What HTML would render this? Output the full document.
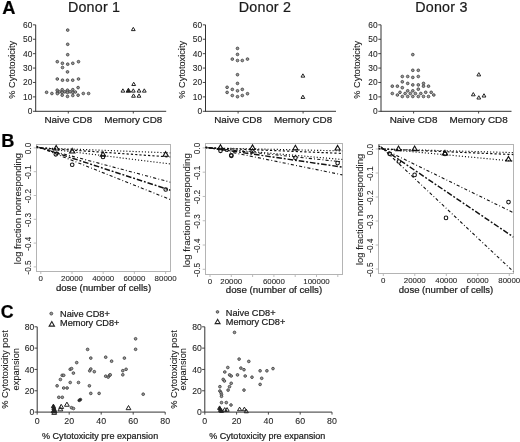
<!DOCTYPE html>
<html><head><meta charset="utf-8"><style>
html,body{margin:0;padding:0;background:#fff;}
svg{display:block;font-family:"Liberation Sans", sans-serif;filter:blur(0.35px);}
text{stroke:#222;stroke-width:0.22px;}
text.t{stroke:#333;stroke-width:0.08px;}
text.y{stroke:#333;stroke-width:0.1px;}
</style></head><body>
<svg width="520" height="442" viewBox="0 0 520 442">
<rect width="520" height="442" fill="#fff"/>
<text x="2.20" y="14.40" font-size="18.3" text-anchor="start" font-weight="bold" fill="#000">A</text>
<text x="94.10" y="12.00" font-size="14.3" text-anchor="middle" font-weight="normal" fill="#1a1a1a" letter-spacing="0.22">Donor 1</text>
<line x1="35.70" y1="24.84" x2="35.70" y2="111.80" stroke="#333" stroke-width="1"/>
<line x1="33.00" y1="111.30" x2="35.70" y2="111.30" stroke="#333" stroke-width="0.9"/>
<text x="32.30" y="114.30" font-size="8.4" text-anchor="end" font-weight="normal" fill="#222" class="t">0</text>
<line x1="33.00" y1="96.89" x2="35.70" y2="96.89" stroke="#333" stroke-width="0.9"/>
<text x="32.30" y="99.89" font-size="8.4" text-anchor="end" font-weight="normal" fill="#222" class="t">10</text>
<line x1="33.00" y1="82.48" x2="35.70" y2="82.48" stroke="#333" stroke-width="0.9"/>
<text x="32.30" y="85.48" font-size="8.4" text-anchor="end" font-weight="normal" fill="#222" class="t">20</text>
<line x1="33.00" y1="68.07" x2="35.70" y2="68.07" stroke="#333" stroke-width="0.9"/>
<text x="32.30" y="71.07" font-size="8.4" text-anchor="end" font-weight="normal" fill="#222" class="t">30</text>
<line x1="33.00" y1="53.66" x2="35.70" y2="53.66" stroke="#333" stroke-width="0.9"/>
<text x="32.30" y="56.66" font-size="8.4" text-anchor="end" font-weight="normal" fill="#222" class="t">40</text>
<line x1="33.00" y1="39.25" x2="35.70" y2="39.25" stroke="#333" stroke-width="0.9"/>
<text x="32.30" y="42.25" font-size="8.4" text-anchor="end" font-weight="normal" fill="#222" class="t">50</text>
<line x1="33.00" y1="24.84" x2="35.70" y2="24.84" stroke="#333" stroke-width="0.9"/>
<text x="32.30" y="27.84" font-size="8.4" text-anchor="end" font-weight="normal" fill="#222" class="t">60</text>
<line x1="35.70" y1="111.30" x2="166.20" y2="111.30" stroke="#333" stroke-width="1"/>
<line x1="68.30" y1="111.30" x2="68.30" y2="113.50" stroke="#333" stroke-width="0.9"/>
<line x1="133.30" y1="111.30" x2="133.30" y2="113.50" stroke="#333" stroke-width="0.9"/>
<text x="68.30" y="123.00" font-size="9.9" text-anchor="middle" font-weight="normal" fill="#1a1a1a">Naive CD8</text>
<text x="133.30" y="123.00" font-size="9.9" text-anchor="middle" font-weight="normal" fill="#1a1a1a">Memory CD8</text>
<text x="15.20" y="69.80" font-size="9.2" text-anchor="middle" font-weight="normal" fill="#1a1a1a" transform="rotate(-90 15.200000000000003 69.8)" class="y">% Cytotoxicity</text>
<text x="265.00" y="12.00" font-size="14.3" text-anchor="middle" font-weight="normal" fill="#1a1a1a" letter-spacing="0.22">Donor 2</text>
<line x1="205.50" y1="24.84" x2="205.50" y2="111.80" stroke="#333" stroke-width="1"/>
<line x1="202.80" y1="111.30" x2="205.50" y2="111.30" stroke="#333" stroke-width="0.9"/>
<text x="202.10" y="114.30" font-size="8.4" text-anchor="end" font-weight="normal" fill="#222" class="t">0</text>
<line x1="202.80" y1="96.89" x2="205.50" y2="96.89" stroke="#333" stroke-width="0.9"/>
<text x="202.10" y="99.89" font-size="8.4" text-anchor="end" font-weight="normal" fill="#222" class="t">10</text>
<line x1="202.80" y1="82.48" x2="205.50" y2="82.48" stroke="#333" stroke-width="0.9"/>
<text x="202.10" y="85.48" font-size="8.4" text-anchor="end" font-weight="normal" fill="#222" class="t">20</text>
<line x1="202.80" y1="68.07" x2="205.50" y2="68.07" stroke="#333" stroke-width="0.9"/>
<text x="202.10" y="71.07" font-size="8.4" text-anchor="end" font-weight="normal" fill="#222" class="t">30</text>
<line x1="202.80" y1="53.66" x2="205.50" y2="53.66" stroke="#333" stroke-width="0.9"/>
<text x="202.10" y="56.66" font-size="8.4" text-anchor="end" font-weight="normal" fill="#222" class="t">40</text>
<line x1="202.80" y1="39.25" x2="205.50" y2="39.25" stroke="#333" stroke-width="0.9"/>
<text x="202.10" y="42.25" font-size="8.4" text-anchor="end" font-weight="normal" fill="#222" class="t">50</text>
<line x1="202.80" y1="24.84" x2="205.50" y2="24.84" stroke="#333" stroke-width="0.9"/>
<text x="202.10" y="27.84" font-size="8.4" text-anchor="end" font-weight="normal" fill="#222" class="t">60</text>
<line x1="205.50" y1="111.30" x2="336.00" y2="111.30" stroke="#333" stroke-width="1"/>
<line x1="238.10" y1="111.30" x2="238.10" y2="113.50" stroke="#333" stroke-width="0.9"/>
<line x1="303.10" y1="111.30" x2="303.10" y2="113.50" stroke="#333" stroke-width="0.9"/>
<text x="238.10" y="123.00" font-size="9.9" text-anchor="middle" font-weight="normal" fill="#1a1a1a">Naive CD8</text>
<text x="303.10" y="123.00" font-size="9.9" text-anchor="middle" font-weight="normal" fill="#1a1a1a">Memory CD8</text>
<text x="185.00" y="69.80" font-size="9.2" text-anchor="middle" font-weight="normal" fill="#1a1a1a" transform="rotate(-90 185.0 69.8)" class="y">% Cytotoxicity</text>
<text x="441.40" y="12.00" font-size="14.3" text-anchor="middle" font-weight="normal" fill="#1a1a1a" letter-spacing="0.22">Donor 3</text>
<line x1="381.00" y1="24.84" x2="381.00" y2="111.80" stroke="#333" stroke-width="1"/>
<line x1="378.30" y1="111.30" x2="381.00" y2="111.30" stroke="#333" stroke-width="0.9"/>
<text x="377.60" y="114.30" font-size="8.4" text-anchor="end" font-weight="normal" fill="#222" class="t">0</text>
<line x1="378.30" y1="96.89" x2="381.00" y2="96.89" stroke="#333" stroke-width="0.9"/>
<text x="377.60" y="99.89" font-size="8.4" text-anchor="end" font-weight="normal" fill="#222" class="t">10</text>
<line x1="378.30" y1="82.48" x2="381.00" y2="82.48" stroke="#333" stroke-width="0.9"/>
<text x="377.60" y="85.48" font-size="8.4" text-anchor="end" font-weight="normal" fill="#222" class="t">20</text>
<line x1="378.30" y1="68.07" x2="381.00" y2="68.07" stroke="#333" stroke-width="0.9"/>
<text x="377.60" y="71.07" font-size="8.4" text-anchor="end" font-weight="normal" fill="#222" class="t">30</text>
<line x1="378.30" y1="53.66" x2="381.00" y2="53.66" stroke="#333" stroke-width="0.9"/>
<text x="377.60" y="56.66" font-size="8.4" text-anchor="end" font-weight="normal" fill="#222" class="t">40</text>
<line x1="378.30" y1="39.25" x2="381.00" y2="39.25" stroke="#333" stroke-width="0.9"/>
<text x="377.60" y="42.25" font-size="8.4" text-anchor="end" font-weight="normal" fill="#222" class="t">50</text>
<line x1="378.30" y1="24.84" x2="381.00" y2="24.84" stroke="#333" stroke-width="0.9"/>
<text x="377.60" y="27.84" font-size="8.4" text-anchor="end" font-weight="normal" fill="#222" class="t">60</text>
<line x1="381.00" y1="111.30" x2="511.50" y2="111.30" stroke="#333" stroke-width="1"/>
<line x1="413.60" y1="111.30" x2="413.60" y2="113.50" stroke="#333" stroke-width="0.9"/>
<line x1="478.60" y1="111.30" x2="478.60" y2="113.50" stroke="#333" stroke-width="0.9"/>
<text x="413.60" y="123.00" font-size="9.9" text-anchor="middle" font-weight="normal" fill="#1a1a1a">Naive CD8</text>
<text x="478.60" y="123.00" font-size="9.9" text-anchor="middle" font-weight="normal" fill="#1a1a1a">Memory CD8</text>
<text x="360.50" y="69.80" font-size="9.2" text-anchor="middle" font-weight="normal" fill="#1a1a1a" transform="rotate(-90 360.5 69.8)" class="y">% Cytotoxicity</text>
<circle cx="67.70" cy="30.10" r="1.35" fill="#9a9a9a" stroke="#3a3a3a" stroke-width="0.8"/>
<circle cx="67.70" cy="44.30" r="1.35" fill="#9a9a9a" stroke="#3a3a3a" stroke-width="0.8"/>
<circle cx="67.70" cy="54.70" r="1.35" fill="#9a9a9a" stroke="#3a3a3a" stroke-width="0.8"/>
<circle cx="57.30" cy="61.70" r="1.35" fill="#9a9a9a" stroke="#3a3a3a" stroke-width="0.8"/>
<circle cx="78.50" cy="61.70" r="1.35" fill="#9a9a9a" stroke="#3a3a3a" stroke-width="0.8"/>
<circle cx="62.40" cy="63.30" r="1.35" fill="#9a9a9a" stroke="#3a3a3a" stroke-width="0.8"/>
<circle cx="72.80" cy="63.30" r="1.35" fill="#9a9a9a" stroke="#3a3a3a" stroke-width="0.8"/>
<circle cx="67.70" cy="64.20" r="1.35" fill="#9a9a9a" stroke="#3a3a3a" stroke-width="0.8"/>
<circle cx="62.50" cy="67.50" r="1.35" fill="#9a9a9a" stroke="#3a3a3a" stroke-width="0.8"/>
<circle cx="67.50" cy="71.90" r="1.35" fill="#9a9a9a" stroke="#3a3a3a" stroke-width="0.8"/>
<circle cx="57.30" cy="79.00" r="1.35" fill="#9a9a9a" stroke="#3a3a3a" stroke-width="0.8"/>
<circle cx="78.50" cy="79.00" r="1.35" fill="#9a9a9a" stroke="#3a3a3a" stroke-width="0.8"/>
<circle cx="62.50" cy="80.20" r="1.35" fill="#9a9a9a" stroke="#3a3a3a" stroke-width="0.8"/>
<circle cx="67.50" cy="80.20" r="1.35" fill="#9a9a9a" stroke="#3a3a3a" stroke-width="0.8"/>
<circle cx="72.70" cy="80.20" r="1.35" fill="#9a9a9a" stroke="#3a3a3a" stroke-width="0.8"/>
<circle cx="78.10" cy="87.60" r="1.35" fill="#9a9a9a" stroke="#3a3a3a" stroke-width="0.8"/>
<circle cx="57.20" cy="90.20" r="1.35" fill="#9a9a9a" stroke="#3a3a3a" stroke-width="0.8"/>
<circle cx="62.20" cy="89.70" r="1.35" fill="#9a9a9a" stroke="#3a3a3a" stroke-width="0.8"/>
<circle cx="67.50" cy="90.20" r="1.35" fill="#9a9a9a" stroke="#3a3a3a" stroke-width="0.8"/>
<circle cx="72.80" cy="89.70" r="1.35" fill="#9a9a9a" stroke="#3a3a3a" stroke-width="0.8"/>
<circle cx="57.40" cy="92.40" r="1.35" fill="#9a9a9a" stroke="#3a3a3a" stroke-width="0.8"/>
<circle cx="59.60" cy="91.80" r="1.35" fill="#9a9a9a" stroke="#3a3a3a" stroke-width="0.8"/>
<circle cx="62.20" cy="92.40" r="1.35" fill="#9a9a9a" stroke="#3a3a3a" stroke-width="0.8"/>
<circle cx="64.80" cy="91.80" r="1.35" fill="#9a9a9a" stroke="#3a3a3a" stroke-width="0.8"/>
<circle cx="67.50" cy="92.40" r="1.35" fill="#9a9a9a" stroke="#3a3a3a" stroke-width="0.8"/>
<circle cx="70.10" cy="91.80" r="1.35" fill="#9a9a9a" stroke="#3a3a3a" stroke-width="0.8"/>
<circle cx="72.80" cy="92.40" r="1.35" fill="#9a9a9a" stroke="#3a3a3a" stroke-width="0.8"/>
<circle cx="75.40" cy="92.00" r="1.35" fill="#9a9a9a" stroke="#3a3a3a" stroke-width="0.8"/>
<circle cx="57.40" cy="93.60" r="1.35" fill="#9a9a9a" stroke="#3a3a3a" stroke-width="0.8"/>
<circle cx="46.60" cy="92.30" r="1.35" fill="#9a9a9a" stroke="#3a3a3a" stroke-width="0.8"/>
<circle cx="51.90" cy="93.50" r="1.35" fill="#9a9a9a" stroke="#3a3a3a" stroke-width="0.8"/>
<circle cx="83.30" cy="93.50" r="1.35" fill="#9a9a9a" stroke="#3a3a3a" stroke-width="0.8"/>
<circle cx="88.60" cy="93.50" r="1.35" fill="#9a9a9a" stroke="#3a3a3a" stroke-width="0.8"/>
<circle cx="62.20" cy="95.20" r="1.35" fill="#9a9a9a" stroke="#3a3a3a" stroke-width="0.8"/>
<circle cx="67.50" cy="96.40" r="1.35" fill="#9a9a9a" stroke="#3a3a3a" stroke-width="0.8"/>
<circle cx="72.80" cy="95.50" r="1.35" fill="#9a9a9a" stroke="#3a3a3a" stroke-width="0.8"/>
<circle cx="78.10" cy="95.20" r="1.35" fill="#9a9a9a" stroke="#3a3a3a" stroke-width="0.8"/>
<path d="M133.30,27.33L135.20,30.62L131.40,30.62Z" fill="none" stroke="#222" stroke-width="1.0"/>
<path d="M133.70,82.23L135.60,85.52L131.80,85.52Z" fill="none" stroke="#222" stroke-width="1.0"/>
<path d="M122.90,88.83L124.80,92.12L121.00,92.12Z" fill="none" stroke="#222" stroke-width="1.0"/>
<path d="M133.30,88.83L135.20,92.12L131.40,92.12Z" fill="none" stroke="#222" stroke-width="1.0"/>
<path d="M139.00,88.83L140.90,92.12L137.10,92.12Z" fill="none" stroke="#222" stroke-width="1.0"/>
<path d="M144.30,88.83L146.20,92.12L142.40,92.12Z" fill="none" stroke="#222" stroke-width="1.0"/>
<path d="M133.50,93.93L135.40,97.22L131.60,97.22Z" fill="none" stroke="#222" stroke-width="1.0"/>
<path d="M139.00,93.93L140.90,97.22L137.10,97.22Z" fill="none" stroke="#222" stroke-width="1.0"/>
<path d="M128.40,88.21L130.70,92.19L126.10,92.19Z" fill="#222" stroke="#222" stroke-width="1.0"/>
<circle cx="237.50" cy="48.40" r="1.35" fill="#9a9a9a" stroke="#3a3a3a" stroke-width="0.8"/>
<circle cx="237.50" cy="54.40" r="1.35" fill="#9a9a9a" stroke="#3a3a3a" stroke-width="0.8"/>
<circle cx="232.30" cy="59.10" r="1.35" fill="#9a9a9a" stroke="#3a3a3a" stroke-width="0.8"/>
<circle cx="247.50" cy="59.10" r="1.35" fill="#9a9a9a" stroke="#3a3a3a" stroke-width="0.8"/>
<circle cx="237.50" cy="60.50" r="1.35" fill="#9a9a9a" stroke="#3a3a3a" stroke-width="0.8"/>
<circle cx="242.30" cy="60.50" r="1.35" fill="#9a9a9a" stroke="#3a3a3a" stroke-width="0.8"/>
<circle cx="237.50" cy="74.70" r="1.35" fill="#9a9a9a" stroke="#3a3a3a" stroke-width="0.8"/>
<circle cx="237.50" cy="83.40" r="1.35" fill="#9a9a9a" stroke="#3a3a3a" stroke-width="0.8"/>
<circle cx="227.10" cy="87.30" r="1.35" fill="#9a9a9a" stroke="#3a3a3a" stroke-width="0.8"/>
<circle cx="232.30" cy="89.40" r="1.35" fill="#9a9a9a" stroke="#3a3a3a" stroke-width="0.8"/>
<circle cx="242.30" cy="89.40" r="1.35" fill="#9a9a9a" stroke="#3a3a3a" stroke-width="0.8"/>
<circle cx="237.50" cy="90.80" r="1.35" fill="#9a9a9a" stroke="#3a3a3a" stroke-width="0.8"/>
<circle cx="227.10" cy="92.40" r="1.35" fill="#9a9a9a" stroke="#3a3a3a" stroke-width="0.8"/>
<circle cx="247.50" cy="93.70" r="1.35" fill="#9a9a9a" stroke="#3a3a3a" stroke-width="0.8"/>
<circle cx="232.30" cy="95.50" r="1.35" fill="#9a9a9a" stroke="#3a3a3a" stroke-width="0.8"/>
<circle cx="242.30" cy="95.50" r="1.35" fill="#9a9a9a" stroke="#3a3a3a" stroke-width="0.8"/>
<circle cx="237.50" cy="96.70" r="1.35" fill="#9a9a9a" stroke="#3a3a3a" stroke-width="0.8"/>
<path d="M302.90,73.83L304.80,77.12L301.00,77.12Z" fill="none" stroke="#222" stroke-width="1.0"/>
<path d="M302.90,95.13L304.80,98.42L301.00,98.42Z" fill="none" stroke="#222" stroke-width="1.0"/>
<circle cx="412.80" cy="54.60" r="1.35" fill="#9a9a9a" stroke="#3a3a3a" stroke-width="0.8"/>
<circle cx="412.80" cy="70.30" r="1.35" fill="#9a9a9a" stroke="#3a3a3a" stroke-width="0.8"/>
<circle cx="418.30" cy="70.30" r="1.35" fill="#9a9a9a" stroke="#3a3a3a" stroke-width="0.8"/>
<circle cx="402.30" cy="76.50" r="1.35" fill="#9a9a9a" stroke="#3a3a3a" stroke-width="0.8"/>
<circle cx="407.70" cy="76.50" r="1.35" fill="#9a9a9a" stroke="#3a3a3a" stroke-width="0.8"/>
<circle cx="412.80" cy="77.40" r="1.35" fill="#9a9a9a" stroke="#3a3a3a" stroke-width="0.8"/>
<circle cx="418.30" cy="76.50" r="1.35" fill="#9a9a9a" stroke="#3a3a3a" stroke-width="0.8"/>
<circle cx="402.30" cy="81.80" r="1.35" fill="#9a9a9a" stroke="#3a3a3a" stroke-width="0.8"/>
<circle cx="407.70" cy="83.40" r="1.35" fill="#9a9a9a" stroke="#3a3a3a" stroke-width="0.8"/>
<circle cx="412.80" cy="84.90" r="1.35" fill="#9a9a9a" stroke="#3a3a3a" stroke-width="0.8"/>
<circle cx="418.30" cy="84.90" r="1.35" fill="#9a9a9a" stroke="#3a3a3a" stroke-width="0.8"/>
<circle cx="423.50" cy="83.40" r="1.35" fill="#9a9a9a" stroke="#3a3a3a" stroke-width="0.8"/>
<circle cx="423.50" cy="86.20" r="1.35" fill="#9a9a9a" stroke="#3a3a3a" stroke-width="0.8"/>
<circle cx="392.30" cy="86.20" r="1.35" fill="#9a9a9a" stroke="#3a3a3a" stroke-width="0.8"/>
<circle cx="397.40" cy="86.20" r="1.35" fill="#9a9a9a" stroke="#3a3a3a" stroke-width="0.8"/>
<circle cx="402.30" cy="87.70" r="1.35" fill="#9a9a9a" stroke="#3a3a3a" stroke-width="0.8"/>
<circle cx="428.50" cy="86.20" r="1.35" fill="#9a9a9a" stroke="#3a3a3a" stroke-width="0.8"/>
<circle cx="407.70" cy="90.80" r="1.35" fill="#9a9a9a" stroke="#3a3a3a" stroke-width="0.8"/>
<circle cx="412.80" cy="90.80" r="1.35" fill="#9a9a9a" stroke="#3a3a3a" stroke-width="0.8"/>
<circle cx="418.30" cy="89.20" r="1.35" fill="#9a9a9a" stroke="#3a3a3a" stroke-width="0.8"/>
<circle cx="392.30" cy="93.50" r="1.35" fill="#9a9a9a" stroke="#3a3a3a" stroke-width="0.8"/>
<circle cx="400.00" cy="92.30" r="1.35" fill="#9a9a9a" stroke="#3a3a3a" stroke-width="0.8"/>
<circle cx="405.10" cy="93.50" r="1.35" fill="#9a9a9a" stroke="#3a3a3a" stroke-width="0.8"/>
<circle cx="410.30" cy="93.50" r="1.35" fill="#9a9a9a" stroke="#3a3a3a" stroke-width="0.8"/>
<circle cx="415.40" cy="93.50" r="1.35" fill="#9a9a9a" stroke="#3a3a3a" stroke-width="0.8"/>
<circle cx="420.80" cy="93.50" r="1.35" fill="#9a9a9a" stroke="#3a3a3a" stroke-width="0.8"/>
<circle cx="425.70" cy="92.30" r="1.35" fill="#9a9a9a" stroke="#3a3a3a" stroke-width="0.8"/>
<circle cx="431.20" cy="92.30" r="1.35" fill="#9a9a9a" stroke="#3a3a3a" stroke-width="0.8"/>
<circle cx="397.40" cy="95.00" r="1.35" fill="#9a9a9a" stroke="#3a3a3a" stroke-width="0.8"/>
<circle cx="402.30" cy="96.50" r="1.35" fill="#9a9a9a" stroke="#3a3a3a" stroke-width="0.8"/>
<circle cx="407.70" cy="96.50" r="1.35" fill="#9a9a9a" stroke="#3a3a3a" stroke-width="0.8"/>
<circle cx="412.80" cy="96.50" r="1.35" fill="#9a9a9a" stroke="#3a3a3a" stroke-width="0.8"/>
<circle cx="418.30" cy="96.50" r="1.35" fill="#9a9a9a" stroke="#3a3a3a" stroke-width="0.8"/>
<circle cx="423.50" cy="96.50" r="1.35" fill="#9a9a9a" stroke="#3a3a3a" stroke-width="0.8"/>
<circle cx="428.50" cy="96.50" r="1.35" fill="#9a9a9a" stroke="#3a3a3a" stroke-width="0.8"/>
<circle cx="433.80" cy="95.00" r="1.35" fill="#9a9a9a" stroke="#3a3a3a" stroke-width="0.8"/>
<path d="M478.80,72.63L480.70,75.92L476.90,75.92Z" fill="none" stroke="#222" stroke-width="1.0"/>
<path d="M473.30,92.53L475.20,95.82L471.40,95.82Z" fill="none" stroke="#222" stroke-width="1.0"/>
<path d="M478.80,95.73L480.70,99.02L476.90,99.02Z" fill="none" stroke="#222" stroke-width="1.0"/>
<path d="M484.00,93.73L485.90,97.02L482.10,97.02Z" fill="none" stroke="#222" stroke-width="1.0"/>
<text x="1.20" y="147.10" font-size="18.2" text-anchor="start" font-weight="bold" fill="#000">B</text>
<rect x="36.5" y="144.5" width="134.0" height="127.0" fill="none" stroke="#b4b4b4" stroke-width="1"/>
<line x1="33.70" y1="147.90" x2="36.50" y2="147.90" stroke="#b4b4b4" stroke-width="0.9"/>
<text x="31.40" y="148.50" font-size="8.2" text-anchor="middle" font-weight="normal" fill="#222" transform="rotate(-90 31.4 148.5)" class="t">0.0</text>
<line x1="33.70" y1="171.70" x2="36.50" y2="171.70" stroke="#b4b4b4" stroke-width="0.9"/>
<text x="31.40" y="172.30" font-size="8.2" text-anchor="middle" font-weight="normal" fill="#222" transform="rotate(-90 31.4 172.29999999999998)" class="t">-0.1</text>
<line x1="33.70" y1="195.50" x2="36.50" y2="195.50" stroke="#b4b4b4" stroke-width="0.9"/>
<text x="31.40" y="196.10" font-size="8.2" text-anchor="middle" font-weight="normal" fill="#222" transform="rotate(-90 31.4 196.1)" class="t">-0.2</text>
<line x1="33.70" y1="219.30" x2="36.50" y2="219.30" stroke="#b4b4b4" stroke-width="0.9"/>
<text x="31.40" y="219.90" font-size="8.2" text-anchor="middle" font-weight="normal" fill="#222" transform="rotate(-90 31.4 219.89999999999998)" class="t">-0.3</text>
<line x1="33.70" y1="243.10" x2="36.50" y2="243.10" stroke="#b4b4b4" stroke-width="0.9"/>
<text x="31.40" y="243.70" font-size="8.2" text-anchor="middle" font-weight="normal" fill="#222" transform="rotate(-90 31.4 243.7)" class="t">-0.4</text>
<line x1="33.70" y1="266.90" x2="36.50" y2="266.90" stroke="#b4b4b4" stroke-width="0.9"/>
<text x="31.40" y="267.50" font-size="8.2" text-anchor="middle" font-weight="normal" fill="#222" transform="rotate(-90 31.4 267.5)" class="t">-0.5</text>
<line x1="40.80" y1="271.50" x2="40.80" y2="274.00" stroke="#b4b4b4" stroke-width="0.9"/>
<line x1="72.00" y1="271.50" x2="72.00" y2="274.00" stroke="#b4b4b4" stroke-width="0.9"/>
<line x1="103.20" y1="271.50" x2="103.20" y2="274.00" stroke="#b4b4b4" stroke-width="0.9"/>
<line x1="134.40" y1="271.50" x2="134.40" y2="274.00" stroke="#b4b4b4" stroke-width="0.9"/>
<line x1="165.60" y1="271.50" x2="165.60" y2="274.00" stroke="#b4b4b4" stroke-width="0.9"/>
<text x="40.80" y="280.80" font-size="7.9" text-anchor="middle" font-weight="normal" fill="#222" class="t">0</text>
<text x="72.00" y="280.80" font-size="7.9" text-anchor="middle" font-weight="normal" fill="#222" class="t">20000</text>
<text x="103.20" y="280.80" font-size="7.9" text-anchor="middle" font-weight="normal" fill="#222" class="t">40000</text>
<text x="134.40" y="280.80" font-size="7.9" text-anchor="middle" font-weight="normal" fill="#222" class="t">60000</text>
<text x="165.60" y="280.80" font-size="7.9" text-anchor="middle" font-weight="normal" fill="#222" class="t">80000</text>
<text x="103.50" y="291.00" font-size="9.65" text-anchor="middle" font-weight="normal" fill="#1a1a1a">dose (number of cells)</text>
<text x="20.80" y="208.60" font-size="9.45" text-anchor="middle" font-weight="normal" fill="#1a1a1a" transform="rotate(-90 20.8 208.6)" class="y">log fraction nonresponding</text>
<clipPath id="cb0"><rect x="36.5" y="144.5" width="134.0" height="127.0"/></clipPath>
<g clip-path="url(#cb0)">
<line x1="36.50" y1="147.73" x2="170.50" y2="152.90" stroke="#111" stroke-width="1.15" stroke-dasharray="1.1,2.0"/>
<line x1="36.50" y1="147.60" x2="170.50" y2="157.00" stroke="#111" stroke-width="1.2" stroke-dasharray="2.2,2.1"/>
<line x1="36.50" y1="147.37" x2="170.50" y2="164.00" stroke="#111" stroke-width="1.15" stroke-dasharray="1.1,2.0"/>
<line x1="36.50" y1="146.76" x2="170.50" y2="182.20" stroke="#111" stroke-width="1.1" stroke-dasharray="0.9,2.2,3.1,2.2"/>
<line x1="36.50" y1="146.50" x2="170.50" y2="190.20" stroke="#111" stroke-width="1.45" stroke-dasharray="1.9,1.9,5.6,1.9"/>
<line x1="36.50" y1="146.19" x2="170.50" y2="199.60" stroke="#111" stroke-width="1.1" stroke-dasharray="0.9,2.2,3.1,2.2"/>
</g>
<rect x="205.5" y="143.5" width="137.0" height="131.0" fill="none" stroke="#b4b4b4" stroke-width="1"/>
<line x1="202.70" y1="147.90" x2="205.50" y2="147.90" stroke="#b4b4b4" stroke-width="0.9"/>
<text x="200.40" y="148.50" font-size="8.2" text-anchor="middle" font-weight="normal" fill="#222" transform="rotate(-90 200.4 148.5)" class="t">0.0</text>
<line x1="202.70" y1="172.18" x2="205.50" y2="172.18" stroke="#b4b4b4" stroke-width="0.9"/>
<text x="200.40" y="172.78" font-size="8.2" text-anchor="middle" font-weight="normal" fill="#222" transform="rotate(-90 200.4 172.78)" class="t">-0.1</text>
<line x1="202.70" y1="196.46" x2="205.50" y2="196.46" stroke="#b4b4b4" stroke-width="0.9"/>
<text x="200.40" y="197.06" font-size="8.2" text-anchor="middle" font-weight="normal" fill="#222" transform="rotate(-90 200.4 197.06)" class="t">-0.2</text>
<line x1="202.70" y1="220.74" x2="205.50" y2="220.74" stroke="#b4b4b4" stroke-width="0.9"/>
<text x="200.40" y="221.34" font-size="8.2" text-anchor="middle" font-weight="normal" fill="#222" transform="rotate(-90 200.4 221.34)" class="t">-0.3</text>
<line x1="202.70" y1="245.02" x2="205.50" y2="245.02" stroke="#b4b4b4" stroke-width="0.9"/>
<text x="200.40" y="245.62" font-size="8.2" text-anchor="middle" font-weight="normal" fill="#222" transform="rotate(-90 200.4 245.62)" class="t">-0.4</text>
<line x1="202.70" y1="269.30" x2="205.50" y2="269.30" stroke="#b4b4b4" stroke-width="0.9"/>
<text x="200.40" y="269.90" font-size="8.2" text-anchor="middle" font-weight="normal" fill="#222" transform="rotate(-90 200.4 269.90000000000003)" class="t">-0.5</text>
<line x1="210.00" y1="274.50" x2="210.00" y2="277.00" stroke="#b4b4b4" stroke-width="0.9"/>
<line x1="231.30" y1="274.50" x2="231.30" y2="277.00" stroke="#b4b4b4" stroke-width="0.9"/>
<line x1="252.60" y1="274.50" x2="252.60" y2="277.00" stroke="#b4b4b4" stroke-width="0.9"/>
<line x1="273.90" y1="274.50" x2="273.90" y2="277.00" stroke="#b4b4b4" stroke-width="0.9"/>
<line x1="295.20" y1="274.50" x2="295.20" y2="277.00" stroke="#b4b4b4" stroke-width="0.9"/>
<line x1="316.50" y1="274.50" x2="316.50" y2="277.00" stroke="#b4b4b4" stroke-width="0.9"/>
<line x1="337.80" y1="274.50" x2="337.80" y2="277.00" stroke="#b4b4b4" stroke-width="0.9"/>
<text x="210.00" y="283.80" font-size="7.9" text-anchor="middle" font-weight="normal" fill="#222" class="t">0</text>
<text x="231.30" y="283.80" font-size="7.9" text-anchor="middle" font-weight="normal" fill="#222" class="t">20000</text>
<text x="273.90" y="283.80" font-size="7.9" text-anchor="middle" font-weight="normal" fill="#222" class="t">60000</text>
<text x="316.50" y="283.80" font-size="7.9" text-anchor="middle" font-weight="normal" fill="#222" class="t">100000</text>
<text x="274.00" y="292.90" font-size="9.75" text-anchor="middle" font-weight="normal" fill="#1a1a1a">dose (number of cells)</text>
<text x="189.60" y="210.20" font-size="9.7" text-anchor="middle" font-weight="normal" fill="#1a1a1a" transform="rotate(-90 189.6 210.2)" class="y">log fraction nonresponding</text>
<clipPath id="cb1"><rect x="205.5" y="143.5" width="137.0" height="131.0"/></clipPath>
<g clip-path="url(#cb1)">
<line x1="205.50" y1="147.80" x2="342.50" y2="150.90" stroke="#111" stroke-width="1.15" stroke-dasharray="1.1,2.0"/>
<line x1="205.50" y1="147.71" x2="342.50" y2="153.40" stroke="#111" stroke-width="1.2" stroke-dasharray="2.2,2.1"/>
<line x1="205.50" y1="147.51" x2="342.50" y2="159.50" stroke="#111" stroke-width="1.15" stroke-dasharray="1.1,2.0"/>
<line x1="205.50" y1="147.42" x2="342.50" y2="161.90" stroke="#111" stroke-width="1.1" stroke-dasharray="0.9,2.2,3.1,2.2"/>
<line x1="205.50" y1="147.25" x2="342.50" y2="167.10" stroke="#111" stroke-width="1.45" stroke-dasharray="1.9,1.9,5.6,1.9"/>
<line x1="205.50" y1="146.98" x2="342.50" y2="174.90" stroke="#111" stroke-width="1.1" stroke-dasharray="0.9,2.2,3.1,2.2"/>
</g>
<rect x="378.5" y="144.5" width="135.0" height="129.0" fill="none" stroke="#b4b4b4" stroke-width="1"/>
<line x1="375.70" y1="149.00" x2="378.50" y2="149.00" stroke="#b4b4b4" stroke-width="0.9"/>
<text x="372.60" y="149.60" font-size="8.2" text-anchor="middle" font-weight="normal" fill="#222" transform="rotate(-90 372.6 149.6)" class="t">0.0</text>
<line x1="375.70" y1="173.00" x2="378.50" y2="173.00" stroke="#b4b4b4" stroke-width="0.9"/>
<text x="372.60" y="173.60" font-size="8.2" text-anchor="middle" font-weight="normal" fill="#222" transform="rotate(-90 372.6 173.6)" class="t">-0.1</text>
<line x1="375.70" y1="197.00" x2="378.50" y2="197.00" stroke="#b4b4b4" stroke-width="0.9"/>
<text x="372.60" y="197.60" font-size="8.2" text-anchor="middle" font-weight="normal" fill="#222" transform="rotate(-90 372.6 197.6)" class="t">-0.2</text>
<line x1="375.70" y1="221.00" x2="378.50" y2="221.00" stroke="#b4b4b4" stroke-width="0.9"/>
<text x="372.60" y="221.60" font-size="8.2" text-anchor="middle" font-weight="normal" fill="#222" transform="rotate(-90 372.6 221.6)" class="t">-0.3</text>
<line x1="375.70" y1="245.00" x2="378.50" y2="245.00" stroke="#b4b4b4" stroke-width="0.9"/>
<text x="372.60" y="245.60" font-size="8.2" text-anchor="middle" font-weight="normal" fill="#222" transform="rotate(-90 372.6 245.6)" class="t">-0.4</text>
<line x1="375.70" y1="269.00" x2="378.50" y2="269.00" stroke="#b4b4b4" stroke-width="0.9"/>
<text x="372.60" y="269.60" font-size="8.2" text-anchor="middle" font-weight="normal" fill="#222" transform="rotate(-90 372.6 269.6)" class="t">-0.5</text>
<line x1="383.30" y1="273.50" x2="383.30" y2="276.00" stroke="#b4b4b4" stroke-width="0.9"/>
<line x1="414.80" y1="273.50" x2="414.80" y2="276.00" stroke="#b4b4b4" stroke-width="0.9"/>
<line x1="446.30" y1="273.50" x2="446.30" y2="276.00" stroke="#b4b4b4" stroke-width="0.9"/>
<line x1="477.80" y1="273.50" x2="477.80" y2="276.00" stroke="#b4b4b4" stroke-width="0.9"/>
<line x1="509.30" y1="273.50" x2="509.30" y2="276.00" stroke="#b4b4b4" stroke-width="0.9"/>
<text x="383.30" y="282.80" font-size="7.9" text-anchor="middle" font-weight="normal" fill="#222" class="t">0</text>
<text x="414.80" y="282.80" font-size="7.9" text-anchor="middle" font-weight="normal" fill="#222" class="t">20000</text>
<text x="446.30" y="282.80" font-size="7.9" text-anchor="middle" font-weight="normal" fill="#222" class="t">40000</text>
<text x="477.80" y="282.80" font-size="7.9" text-anchor="middle" font-weight="normal" fill="#222" class="t">60000</text>
<text x="509.30" y="282.80" font-size="7.9" text-anchor="middle" font-weight="normal" fill="#222" class="t">80000</text>
<text x="446.00" y="292.80" font-size="9.55" text-anchor="middle" font-weight="normal" fill="#1a1a1a">dose (number of cells)</text>
<text x="363.30" y="209.40" font-size="9.45" text-anchor="middle" font-weight="normal" fill="#1a1a1a" transform="rotate(-90 363.3 209.4)" class="y">log fraction nonresponding</text>
<clipPath id="cb2"><rect x="378.5" y="144.5" width="135.0" height="129.0"/></clipPath>
<g clip-path="url(#cb2)">
<line x1="378.50" y1="148.87" x2="513.50" y2="152.60" stroke="#111" stroke-width="1.15" stroke-dasharray="1.1,2.0"/>
<line x1="378.50" y1="148.79" x2="513.50" y2="154.60" stroke="#111" stroke-width="1.2" stroke-dasharray="2.2,2.1"/>
<line x1="378.50" y1="148.55" x2="513.50" y2="161.10" stroke="#111" stroke-width="1.15" stroke-dasharray="1.1,2.0"/>
<line x1="378.50" y1="146.65" x2="513.50" y2="212.70" stroke="#111" stroke-width="1.1" stroke-dasharray="0.9,2.2,3.1,2.2"/>
<line x1="378.50" y1="145.75" x2="513.50" y2="237.10" stroke="#111" stroke-width="1.45" stroke-dasharray="1.9,1.9,5.6,1.9"/>
<line x1="378.50" y1="144.48" x2="513.50" y2="271.70" stroke="#111" stroke-width="1.1" stroke-dasharray="0.9,2.2,3.1,2.2"/>
</g>
<path d="M56.20,145.45L58.85,150.04L53.55,150.04Z" fill="none" stroke="#111" stroke-width="1.1"/>
<path d="M72.20,148.45L74.85,153.04L69.55,153.04Z" fill="none" stroke="#111" stroke-width="1.1"/>
<path d="M103.00,151.65L105.65,156.24L100.35,156.24Z" fill="none" stroke="#111" stroke-width="1.1"/>
<path d="M165.70,151.65L168.35,156.24L163.05,156.24Z" fill="none" stroke="#111" stroke-width="1.1"/>
<circle cx="55.80" cy="154.30" r="1.8" fill="none" stroke="#111" stroke-width="1.05"/>
<circle cx="72.20" cy="164.70" r="1.8" fill="none" stroke="#111" stroke-width="1.05"/>
<circle cx="103.00" cy="157.00" r="1.8" fill="none" stroke="#111" stroke-width="1.05"/>
<circle cx="165.70" cy="189.50" r="1.8" fill="none" stroke="#111" stroke-width="1.05"/>
<path d="M220.50,144.65L223.15,149.24L217.85,149.24Z" fill="none" stroke="#111" stroke-width="1.1"/>
<path d="M252.50,144.85L255.15,149.44L249.85,149.44Z" fill="none" stroke="#111" stroke-width="1.1"/>
<path d="M295.40,145.25L298.05,149.84L292.75,149.84Z" fill="none" stroke="#111" stroke-width="1.1"/>
<path d="M337.60,145.45L340.25,150.04L334.95,150.04Z" fill="none" stroke="#111" stroke-width="1.1"/>
<circle cx="220.50" cy="150.80" r="1.8" fill="none" stroke="#111" stroke-width="1.05"/>
<circle cx="231.20" cy="155.20" r="1.8" fill="none" stroke="#111" stroke-width="1.05"/>
<circle cx="231.40" cy="155.80" r="1.8" fill="none" stroke="#111" stroke-width="1.05"/>
<circle cx="252.50" cy="151.50" r="1.8" fill="none" stroke="#111" stroke-width="1.05"/>
<circle cx="295.40" cy="157.70" r="1.8" fill="none" stroke="#111" stroke-width="1.05"/>
<circle cx="337.60" cy="163.10" r="1.8" fill="none" stroke="#111" stroke-width="1.05"/>
<path d="M398.50,146.05L401.15,150.64L395.85,150.64Z" fill="none" stroke="#111" stroke-width="1.1"/>
<path d="M414.60,146.05L417.25,150.64L411.95,150.64Z" fill="none" stroke="#111" stroke-width="1.1"/>
<path d="M445.00,150.45L447.65,155.04L442.35,155.04Z" fill="none" stroke="#111" stroke-width="1.1"/>
<path d="M508.50,156.45L511.15,161.04L505.85,161.04Z" fill="none" stroke="#111" stroke-width="1.1"/>
<circle cx="389.60" cy="153.80" r="1.8" fill="none" stroke="#111" stroke-width="1.05"/>
<circle cx="398.90" cy="161.50" r="1.8" fill="none" stroke="#111" stroke-width="1.05"/>
<circle cx="414.60" cy="174.90" r="1.8" fill="none" stroke="#111" stroke-width="1.05"/>
<circle cx="446.00" cy="217.90" r="1.8" fill="none" stroke="#111" stroke-width="1.05"/>
<circle cx="508.50" cy="202.10" r="1.8" fill="none" stroke="#111" stroke-width="1.05"/>
<circle cx="445.00" cy="154.00" r="1.8" fill="none" stroke="#111" stroke-width="1.05"/>
<text x="0.80" y="318.20" font-size="17.8" text-anchor="start" font-weight="bold" fill="#000">C</text>
<line x1="37.20" y1="326.80" x2="37.20" y2="412.10" stroke="#333" stroke-width="1"/>
<line x1="34.50" y1="412.10" x2="37.20" y2="412.10" stroke="#333" stroke-width="0.9"/>
<text x="34.20" y="415.20" font-size="8.6" text-anchor="end" font-weight="normal" fill="#222" class="t">0</text>
<line x1="34.50" y1="390.78" x2="37.20" y2="390.78" stroke="#333" stroke-width="0.9"/>
<text x="34.20" y="393.88" font-size="8.6" text-anchor="end" font-weight="normal" fill="#222" class="t">20</text>
<line x1="34.50" y1="369.45" x2="37.20" y2="369.45" stroke="#333" stroke-width="0.9"/>
<text x="34.20" y="372.55" font-size="8.6" text-anchor="end" font-weight="normal" fill="#222" class="t">40</text>
<line x1="34.50" y1="348.12" x2="37.20" y2="348.12" stroke="#333" stroke-width="0.9"/>
<text x="34.20" y="351.23" font-size="8.6" text-anchor="end" font-weight="normal" fill="#222" class="t">60</text>
<line x1="34.50" y1="326.80" x2="37.20" y2="326.80" stroke="#333" stroke-width="0.9"/>
<text x="34.20" y="329.90" font-size="8.6" text-anchor="end" font-weight="normal" fill="#222" class="t">80</text>
<line x1="37.20" y1="412.10" x2="165.20" y2="412.10" stroke="#333" stroke-width="1"/>
<line x1="37.20" y1="412.10" x2="37.20" y2="414.60" stroke="#333" stroke-width="0.9"/>
<text x="37.20" y="423.60" font-size="8.8" text-anchor="middle" font-weight="normal" fill="#222" class="t">0</text>
<line x1="69.20" y1="412.10" x2="69.20" y2="414.60" stroke="#333" stroke-width="0.9"/>
<text x="69.20" y="423.60" font-size="8.8" text-anchor="middle" font-weight="normal" fill="#222" class="t">20</text>
<line x1="101.20" y1="412.10" x2="101.20" y2="414.60" stroke="#333" stroke-width="0.9"/>
<text x="101.20" y="423.60" font-size="8.8" text-anchor="middle" font-weight="normal" fill="#222" class="t">40</text>
<line x1="133.20" y1="412.10" x2="133.20" y2="414.60" stroke="#333" stroke-width="0.9"/>
<text x="133.20" y="423.60" font-size="8.8" text-anchor="middle" font-weight="normal" fill="#222" class="t">60</text>
<line x1="165.20" y1="412.10" x2="165.20" y2="414.60" stroke="#333" stroke-width="0.9"/>
<text x="165.20" y="423.60" font-size="8.8" text-anchor="middle" font-weight="normal" fill="#222" class="t">80</text>
<text x="100.10" y="438.50" font-size="9.05" text-anchor="middle" font-weight="normal" fill="#1a1a1a">% Cytotoxicity pre expansion</text>
<text x="8.10" y="369.50" font-size="9.3" text-anchor="middle" font-weight="normal" fill="#1a1a1a" transform="rotate(-90 8.100000000000001 369.5)" class="y">% Cytotoxicity post</text>
<text x="19.40" y="369.20" font-size="9.3" text-anchor="middle" font-weight="normal" fill="#1a1a1a" transform="rotate(-90 19.400000000000002 369.2)" class="y">expansion</text>
<circle cx="51.30" cy="313.60" r="1.45" fill="#9a9a9a" stroke="#3a3a3a" stroke-width="0.8"/>
<text x="60.00" y="317.20" font-size="9.2" text-anchor="start" font-weight="normal" fill="#1a1a1a">Naive CD8+</text>
<path d="M51.80,321.55L54.45,326.14L49.15,326.14Z" fill="none" stroke="#222" stroke-width="1.1"/>
<text x="60.00" y="326.30" font-size="9.2" text-anchor="start" font-weight="normal" fill="#1a1a1a">Memory CD8+</text>
<line x1="204.80" y1="326.80" x2="204.80" y2="412.10" stroke="#333" stroke-width="1"/>
<line x1="202.10" y1="412.10" x2="204.80" y2="412.10" stroke="#333" stroke-width="0.9"/>
<text x="201.80" y="415.20" font-size="8.6" text-anchor="end" font-weight="normal" fill="#222" class="t">0</text>
<line x1="202.10" y1="390.78" x2="204.80" y2="390.78" stroke="#333" stroke-width="0.9"/>
<text x="201.80" y="393.88" font-size="8.6" text-anchor="end" font-weight="normal" fill="#222" class="t">20</text>
<line x1="202.10" y1="369.45" x2="204.80" y2="369.45" stroke="#333" stroke-width="0.9"/>
<text x="201.80" y="372.55" font-size="8.6" text-anchor="end" font-weight="normal" fill="#222" class="t">40</text>
<line x1="202.10" y1="348.12" x2="204.80" y2="348.12" stroke="#333" stroke-width="0.9"/>
<text x="201.80" y="351.23" font-size="8.6" text-anchor="end" font-weight="normal" fill="#222" class="t">60</text>
<line x1="202.10" y1="326.80" x2="204.80" y2="326.80" stroke="#333" stroke-width="0.9"/>
<text x="201.80" y="329.90" font-size="8.6" text-anchor="end" font-weight="normal" fill="#222" class="t">80</text>
<line x1="204.80" y1="412.10" x2="332.00" y2="412.10" stroke="#333" stroke-width="1"/>
<line x1="204.80" y1="412.10" x2="204.80" y2="414.60" stroke="#333" stroke-width="0.9"/>
<text x="204.80" y="423.60" font-size="8.8" text-anchor="middle" font-weight="normal" fill="#222" class="t">0</text>
<line x1="236.60" y1="412.10" x2="236.60" y2="414.60" stroke="#333" stroke-width="0.9"/>
<text x="236.60" y="423.60" font-size="8.8" text-anchor="middle" font-weight="normal" fill="#222" class="t">20</text>
<line x1="268.40" y1="412.10" x2="268.40" y2="414.60" stroke="#333" stroke-width="0.9"/>
<text x="268.40" y="423.60" font-size="8.8" text-anchor="middle" font-weight="normal" fill="#222" class="t">40</text>
<line x1="300.20" y1="412.10" x2="300.20" y2="414.60" stroke="#333" stroke-width="0.9"/>
<text x="300.20" y="423.60" font-size="8.8" text-anchor="middle" font-weight="normal" fill="#222" class="t">60</text>
<line x1="332.00" y1="412.10" x2="332.00" y2="414.60" stroke="#333" stroke-width="0.9"/>
<text x="332.00" y="423.60" font-size="8.8" text-anchor="middle" font-weight="normal" fill="#222" class="t">80</text>
<text x="267.30" y="438.50" font-size="9.05" text-anchor="middle" font-weight="normal" fill="#1a1a1a">% Cytotoxicity pre expansion</text>
<text x="176.80" y="369.50" font-size="9.3" text-anchor="middle" font-weight="normal" fill="#1a1a1a" transform="rotate(-90 176.8 369.5)" class="y">% Cytotoxicity post</text>
<text x="186.20" y="369.20" font-size="9.3" text-anchor="middle" font-weight="normal" fill="#1a1a1a" transform="rotate(-90 186.20000000000002 369.2)" class="y">expansion</text>
<circle cx="217.50" cy="311.90" r="1.3" fill="#9a9a9a" stroke="#3a3a3a" stroke-width="0.8"/>
<text x="225.80" y="315.50" font-size="9.2" text-anchor="start" font-weight="normal" fill="#1a1a1a">Naive CD8+</text>
<path d="M217.60,319.35L220.05,323.60L215.15,323.60Z" fill="none" stroke="#222" stroke-width="1.1"/>
<text x="225.80" y="324.60" font-size="9.2" text-anchor="start" font-weight="normal" fill="#1a1a1a">Memory CD8+</text>
<circle cx="87.60" cy="349.40" r="1.35" fill="#9a9a9a" stroke="#3a3a3a" stroke-width="0.8"/>
<circle cx="90.80" cy="358.10" r="1.35" fill="#9a9a9a" stroke="#3a3a3a" stroke-width="0.8"/>
<circle cx="76.70" cy="362.60" r="1.35" fill="#9a9a9a" stroke="#3a3a3a" stroke-width="0.8"/>
<circle cx="70.20" cy="369.30" r="1.35" fill="#9a9a9a" stroke="#3a3a3a" stroke-width="0.8"/>
<circle cx="71.60" cy="368.60" r="1.35" fill="#9a9a9a" stroke="#3a3a3a" stroke-width="0.8"/>
<circle cx="89.70" cy="370.80" r="1.35" fill="#9a9a9a" stroke="#3a3a3a" stroke-width="0.8"/>
<circle cx="90.80" cy="369.00" r="1.35" fill="#9a9a9a" stroke="#3a3a3a" stroke-width="0.8"/>
<circle cx="73.40" cy="373.10" r="1.35" fill="#9a9a9a" stroke="#3a3a3a" stroke-width="0.8"/>
<circle cx="94.30" cy="371.70" r="1.35" fill="#9a9a9a" stroke="#3a3a3a" stroke-width="0.8"/>
<circle cx="62.20" cy="375.30" r="1.35" fill="#9a9a9a" stroke="#3a3a3a" stroke-width="0.8"/>
<circle cx="63.70" cy="375.30" r="1.35" fill="#9a9a9a" stroke="#3a3a3a" stroke-width="0.8"/>
<circle cx="60.40" cy="379.50" r="1.35" fill="#9a9a9a" stroke="#3a3a3a" stroke-width="0.8"/>
<circle cx="70.20" cy="382.50" r="1.35" fill="#9a9a9a" stroke="#3a3a3a" stroke-width="0.8"/>
<circle cx="78.50" cy="382.50" r="1.35" fill="#9a9a9a" stroke="#3a3a3a" stroke-width="0.8"/>
<circle cx="57.10" cy="385.80" r="1.35" fill="#9a9a9a" stroke="#3a3a3a" stroke-width="0.8"/>
<circle cx="89.40" cy="385.80" r="1.35" fill="#9a9a9a" stroke="#3a3a3a" stroke-width="0.8"/>
<circle cx="63.70" cy="388.00" r="1.35" fill="#9a9a9a" stroke="#3a3a3a" stroke-width="0.8"/>
<circle cx="67.10" cy="388.00" r="1.35" fill="#9a9a9a" stroke="#3a3a3a" stroke-width="0.8"/>
<circle cx="90.80" cy="393.40" r="1.35" fill="#9a9a9a" stroke="#3a3a3a" stroke-width="0.8"/>
<circle cx="99.10" cy="393.40" r="1.35" fill="#9a9a9a" stroke="#3a3a3a" stroke-width="0.8"/>
<circle cx="58.80" cy="397.30" r="1.35" fill="#9a9a9a" stroke="#3a3a3a" stroke-width="0.8"/>
<circle cx="62.30" cy="397.30" r="1.35" fill="#9a9a9a" stroke="#3a3a3a" stroke-width="0.8"/>
<circle cx="71.50" cy="407.70" r="1.35" fill="#9a9a9a" stroke="#3a3a3a" stroke-width="0.8"/>
<circle cx="73.50" cy="408.50" r="1.35" fill="#9a9a9a" stroke="#3a3a3a" stroke-width="0.8"/>
<circle cx="105.70" cy="357.20" r="1.35" fill="#9a9a9a" stroke="#3a3a3a" stroke-width="0.8"/>
<circle cx="105.70" cy="376.20" r="1.35" fill="#9a9a9a" stroke="#3a3a3a" stroke-width="0.8"/>
<circle cx="108.20" cy="377.10" r="1.35" fill="#9a9a9a" stroke="#3a3a3a" stroke-width="0.8"/>
<circle cx="109.60" cy="375.30" r="1.35" fill="#9a9a9a" stroke="#3a3a3a" stroke-width="0.8"/>
<circle cx="135.60" cy="338.80" r="1.35" fill="#9a9a9a" stroke="#3a3a3a" stroke-width="0.8"/>
<circle cx="135.60" cy="349.30" r="1.35" fill="#9a9a9a" stroke="#3a3a3a" stroke-width="0.8"/>
<circle cx="111.60" cy="361.20" r="1.35" fill="#9a9a9a" stroke="#3a3a3a" stroke-width="0.8"/>
<circle cx="124.40" cy="358.10" r="1.35" fill="#9a9a9a" stroke="#3a3a3a" stroke-width="0.8"/>
<circle cx="110.20" cy="374.80" r="1.35" fill="#9a9a9a" stroke="#3a3a3a" stroke-width="0.8"/>
<circle cx="122.80" cy="370.70" r="1.35" fill="#9a9a9a" stroke="#3a3a3a" stroke-width="0.8"/>
<circle cx="126.10" cy="369.30" r="1.35" fill="#9a9a9a" stroke="#3a3a3a" stroke-width="0.8"/>
<circle cx="122.80" cy="374.80" r="1.35" fill="#9a9a9a" stroke="#3a3a3a" stroke-width="0.8"/>
<circle cx="143.20" cy="394.20" r="1.35" fill="#9a9a9a" stroke="#3a3a3a" stroke-width="0.8"/>
<circle cx="79.20" cy="400.40" r="1.35" fill="#222" stroke="#3a3a3a" stroke-width="0.8"/>
<circle cx="80.40" cy="399.60" r="1.35" fill="#222" stroke="#3a3a3a" stroke-width="0.8"/>
<path d="M66.90,402.11L69.30,406.26L64.50,406.26Z" fill="none" stroke="#222" stroke-width="1.0"/>
<path d="M61.20,404.31L63.60,408.46L58.80,408.46Z" fill="none" stroke="#222" stroke-width="1.0"/>
<path d="M60.40,406.71L62.80,410.86L58.00,410.86Z" fill="none" stroke="#222" stroke-width="1.0"/>
<path d="M54.20,410.21L56.60,414.36L51.80,414.36Z" fill="none" stroke="#222" stroke-width="1.0"/>
<path d="M128.50,405.51L130.90,409.66L126.10,409.66Z" fill="none" stroke="#222" stroke-width="1.0"/>
<path d="M53.40,404.12L55.40,407.59L51.40,407.59Z" fill="#222" stroke="#222" stroke-width="1.0"/>
<path d="M53.80,405.92L55.80,409.39L51.80,409.39Z" fill="#222" stroke="#222" stroke-width="1.0"/>
<path d="M54.40,407.72L56.40,411.19L52.40,411.19Z" fill="#222" stroke="#222" stroke-width="1.0"/>
<path d="M53.20,409.12L55.20,412.59L51.20,412.59Z" fill="#222" stroke="#222" stroke-width="1.0"/>
<path d="M55.00,409.42L57.00,412.89L53.00,412.89Z" fill="#222" stroke="#222" stroke-width="1.0"/>
<circle cx="234.50" cy="332.40" r="1.35" fill="#9a9a9a" stroke="#3a3a3a" stroke-width="0.8"/>
<circle cx="239.10" cy="359.10" r="1.35" fill="#9a9a9a" stroke="#3a3a3a" stroke-width="0.8"/>
<circle cx="248.80" cy="361.40" r="1.35" fill="#9a9a9a" stroke="#3a3a3a" stroke-width="0.8"/>
<circle cx="227.80" cy="367.50" r="1.35" fill="#9a9a9a" stroke="#3a3a3a" stroke-width="0.8"/>
<circle cx="240.90" cy="368.10" r="1.35" fill="#9a9a9a" stroke="#3a3a3a" stroke-width="0.8"/>
<circle cx="244.00" cy="369.70" r="1.35" fill="#9a9a9a" stroke="#3a3a3a" stroke-width="0.8"/>
<circle cx="224.80" cy="372.00" r="1.35" fill="#9a9a9a" stroke="#3a3a3a" stroke-width="0.8"/>
<circle cx="237.50" cy="374.90" r="1.35" fill="#9a9a9a" stroke="#3a3a3a" stroke-width="0.8"/>
<circle cx="245.20" cy="376.00" r="1.35" fill="#9a9a9a" stroke="#3a3a3a" stroke-width="0.8"/>
<circle cx="252.00" cy="377.20" r="1.35" fill="#9a9a9a" stroke="#3a3a3a" stroke-width="0.8"/>
<circle cx="229.60" cy="374.90" r="1.35" fill="#9a9a9a" stroke="#3a3a3a" stroke-width="0.8"/>
<circle cx="231.20" cy="376.00" r="1.35" fill="#9a9a9a" stroke="#3a3a3a" stroke-width="0.8"/>
<circle cx="260.10" cy="370.80" r="1.35" fill="#9a9a9a" stroke="#3a3a3a" stroke-width="0.8"/>
<circle cx="266.90" cy="370.80" r="1.35" fill="#9a9a9a" stroke="#3a3a3a" stroke-width="0.8"/>
<circle cx="273.00" cy="368.60" r="1.35" fill="#9a9a9a" stroke="#3a3a3a" stroke-width="0.8"/>
<circle cx="223.20" cy="379.40" r="1.35" fill="#9a9a9a" stroke="#3a3a3a" stroke-width="0.8"/>
<circle cx="224.40" cy="381.00" r="1.35" fill="#9a9a9a" stroke="#3a3a3a" stroke-width="0.8"/>
<circle cx="261.70" cy="378.30" r="1.35" fill="#9a9a9a" stroke="#3a3a3a" stroke-width="0.8"/>
<circle cx="231.20" cy="383.30" r="1.35" fill="#9a9a9a" stroke="#3a3a3a" stroke-width="0.8"/>
<circle cx="219.90" cy="386.70" r="1.35" fill="#9a9a9a" stroke="#3a3a3a" stroke-width="0.8"/>
<circle cx="229.50" cy="386.70" r="1.35" fill="#9a9a9a" stroke="#3a3a3a" stroke-width="0.8"/>
<circle cx="260.10" cy="384.40" r="1.35" fill="#9a9a9a" stroke="#3a3a3a" stroke-width="0.8"/>
<circle cx="219.90" cy="391.00" r="1.35" fill="#9a9a9a" stroke="#3a3a3a" stroke-width="0.8"/>
<circle cx="220.90" cy="392.50" r="1.35" fill="#9a9a9a" stroke="#3a3a3a" stroke-width="0.8"/>
<circle cx="221.50" cy="394.40" r="1.35" fill="#9a9a9a" stroke="#3a3a3a" stroke-width="0.8"/>
<circle cx="221.50" cy="396.30" r="1.35" fill="#9a9a9a" stroke="#3a3a3a" stroke-width="0.8"/>
<circle cx="228.10" cy="390.10" r="1.35" fill="#9a9a9a" stroke="#3a3a3a" stroke-width="0.8"/>
<circle cx="244.00" cy="390.10" r="1.35" fill="#9a9a9a" stroke="#3a3a3a" stroke-width="0.8"/>
<circle cx="221.50" cy="402.60" r="1.35" fill="#9a9a9a" stroke="#3a3a3a" stroke-width="0.8"/>
<circle cx="226.30" cy="402.60" r="1.35" fill="#9a9a9a" stroke="#3a3a3a" stroke-width="0.8"/>
<circle cx="231.00" cy="405.00" r="1.35" fill="#9a9a9a" stroke="#3a3a3a" stroke-width="0.8"/>
<path d="M224.70,407.62L226.80,411.25L222.60,411.25Z" fill="none" stroke="#222" stroke-width="1.0"/>
<path d="M227.10,407.62L229.20,411.25L225.00,411.25Z" fill="none" stroke="#222" stroke-width="1.0"/>
<path d="M239.60,407.12L241.70,410.75L237.50,410.75Z" fill="none" stroke="#222" stroke-width="1.0"/>
<path d="M244.40,407.12L246.50,410.75L242.30,410.75Z" fill="none" stroke="#222" stroke-width="1.0"/>
<path d="M246.30,409.12L248.40,412.75L244.20,412.75Z" fill="none" stroke="#222" stroke-width="1.0"/>
<path d="M219.60,405.92L221.60,409.39L217.60,409.39Z" fill="#222" stroke="#222" stroke-width="1.0"/>
<path d="M220.40,407.92L222.40,411.39L218.40,411.39Z" fill="#222" stroke="#222" stroke-width="1.0"/>
<path d="M221.50,408.92L223.50,412.39L219.50,412.39Z" fill="#222" stroke="#222" stroke-width="1.0"/>
</svg>
</body></html>
